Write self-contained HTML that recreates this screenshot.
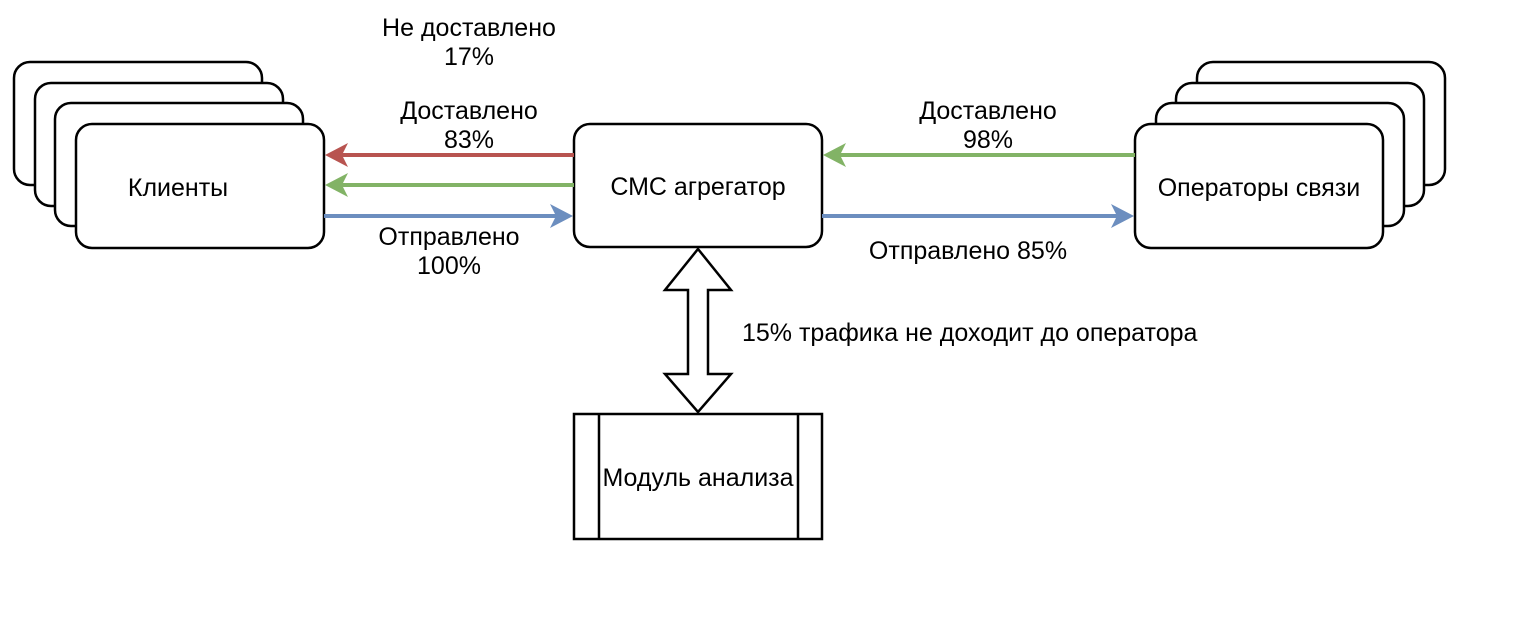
<!DOCTYPE html>
<html><head><meta charset="utf-8"><style>
html,body{margin:0;padding:0;background:#fff;}
svg{display:block;font-family:"Liberation Sans",Arial,sans-serif;}
</style></head><body>
<svg width="1536" height="642" viewBox="0 0 1536 642" xmlns="http://www.w3.org/2000/svg">
<g fill="#fff" stroke="#000" stroke-width="2.5">
<rect x="14" y="62" width="248" height="123" rx="16"/>
<rect x="35" y="83" width="248" height="123" rx="16"/>
<rect x="55" y="103" width="248" height="123" rx="16"/>
<rect x="76" y="124" width="248" height="124" rx="16"/>
<rect x="1197" y="62" width="248" height="123" rx="16"/>
<rect x="1176" y="83" width="248" height="123" rx="16"/>
<rect x="1156" y="103" width="248" height="123" rx="16"/>
<rect x="1135" y="124" width="248" height="124" rx="16"/>
<rect x="574" y="124" width="248" height="123" rx="16"/>
<rect x="574" y="414" width="248" height="125"/>
<line x1="599" y1="414" x2="599" y2="539"/>
<line x1="798" y1="414" x2="798" y2="539"/>
<path d="M698,249 L731,290 L708,290 L708,374 L731,374 L698,412 L665,374 L688,374 L688,290 L665,290 Z"/>
</g>
<g stroke-width="4" fill="none">
<line x1="574" y1="155" x2="340" y2="155" stroke="#b85450"/>
<line x1="574" y1="185" x2="340" y2="185" stroke="#82b366"/>
<line x1="324" y1="216" x2="558" y2="216" stroke="#6c8ebf"/>
<line x1="1135" y1="155" x2="838" y2="155" stroke="#82b366"/>
<line x1="822" y1="216" x2="1119" y2="216" stroke="#6c8ebf"/>
</g>
<path d="M325,155 L348,143 L342,155 L348,167 Z" fill="#b85450"/>
<path d="M325,185 L348,173 L342,185 L348,197 Z" fill="#82b366"/>
<path d="M573,216 L550,204 L556,216 L550,228 Z" fill="#6c8ebf"/>
<path d="M823,155 L846,143 L840,155 L846,167 Z" fill="#82b366"/>
<path d="M1134,216 L1111,204 L1117,216 L1111,228 Z" fill="#6c8ebf"/>
<g font-size="25" fill="#000" text-anchor="middle">
<text x="178" y="196">Клиенты</text>
<text x="698" y="195">СМС агрегатор</text>
<text x="1259" y="196">Операторы связи</text>
<text x="698" y="486">Модуль анализа</text>
<text x="469" y="36">Не доставлено</text>
<text x="469" y="65">17%</text>
<text x="469" y="119">Доставлено</text>
<text x="469" y="148">83%</text>
<text x="449" y="245">Отправлено</text>
<text x="449" y="274">100%</text>
<text x="988" y="119">Доставлено</text>
<text x="988" y="148">98%</text>
<text x="968" y="259">Отправлено 85%</text>
<text x="742" y="341" text-anchor="start">15% трафика не доходит до оператора</text>
</g>
</svg>
</body></html>
